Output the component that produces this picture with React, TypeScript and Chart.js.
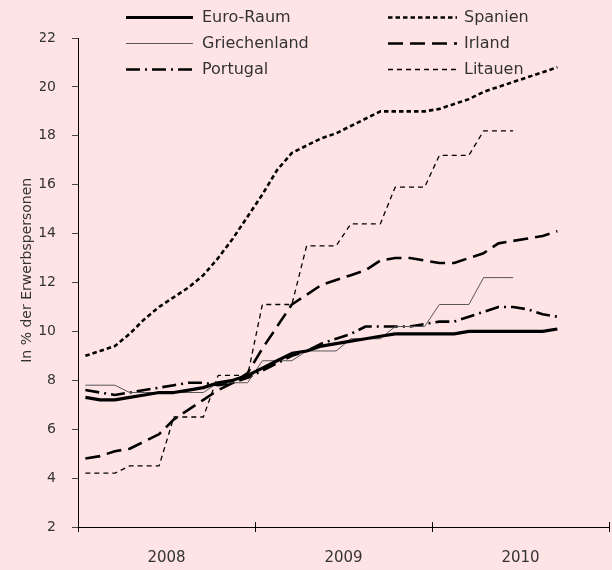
import React, { useEffect, useRef } from "react";
import { Chart, registerables } from "chart.js";

Chart.register(...registerables);

// ---- data (monthly, Jan 2008 = index 0) ----
const years = ["2008", "2009", "2010"];
const monthsPerYear = 12;
const yTickValues = [2, 4, 6, 8, 10, 12, 14, 16, 18, 20, 22];
const yTitle = "In % der Erwerbspersonen";

const euroRaum = [7.3, 7.2, 7.2, 7.3, 7.4, 7.5, 7.5, 7.6, 7.7, 7.9, 8.0, 8.2, 8.5, 8.8, 9.1, 9.2, 9.4, 9.5, 9.6, 9.7, 9.8, 9.9, 9.9, 9.9, 9.9, 9.9, 10.0, 10.0, 10.0, 10.0, 10.0, 10.0, 10.1];
const spanien = [9.0, 9.2, 9.4, 9.9, 10.5, 11.0, 11.4, 11.8, 12.3, 13.0, 13.8, 14.7, 15.6, 16.6, 17.3, 17.6, 17.9, 18.1, 18.4, 18.7, 19.0, 19.0, 19.0, 19.0, 19.1, 19.3, 19.5, 19.8, 20.0, 20.2, 20.4, 20.6, 20.8];
const griechenland = [7.8, 7.8, 7.8, 7.5, 7.5, 7.5, 7.5, 7.5, 7.5, 7.9, 7.9, 7.9, 8.8, 8.8, 8.8, 9.2, 9.2, 9.2, 9.7, 9.7, 9.7, 10.2, 10.2, 10.2, 11.1, 11.1, 11.1, 12.2, 12.2, 12.2];
const irland = [4.8, 4.9, 5.1, 5.2, 5.5, 5.8, 6.4, 6.8, 7.2, 7.6, 7.9, 8.3, 9.3, 10.2, 11.1, 11.5, 11.9, 12.1, 12.3, 12.5, 12.9, 13.0, 13.0, 12.9, 12.8, 12.8, 13.0, 13.2, 13.6, 13.7, 13.8, 13.9, 14.1];
const portugal = [7.6, 7.5, 7.4, 7.5, 7.6, 7.7, 7.8, 7.9, 7.9, 7.8, 7.9, 8.1, 8.4, 8.7, 9.0, 9.2, 9.5, 9.7, 9.9, 10.2, 10.2, 10.2, 10.2, 10.3, 10.4, 10.4, 10.6, 10.8, 11.0, 11.0, 10.9, 10.7, 10.6];
const litauen = [4.2, 4.2, 4.2, 4.5, 4.5, 4.5, 6.5, 6.5, 6.5, 8.2, 8.2, 8.2, 11.1, 11.1, 11.1, 13.5, 13.5, 13.5, 14.4, 14.4, 14.4, 15.9, 15.9, 15.9, 17.2, 17.2, 17.2, 18.2, 18.2, 18.2];

const seriesNames = ["Euro-Raum", "Spanien", "Griechenland", "Irland", "Portugal", "Litauen"];
const seriesValues = [euroRaum, spanien, griechenland, irland, portugal, litauen];

// ---- styles ----
const BG = "#FFE4E6";
const TEXT = "#333333";
const FONT = "'DejaVu Sans', sans-serif";
const seriesStyles = [
  { borderColor: "#000000", borderWidth: 3.2, borderDash: [] as number[] },
  { borderColor: "#000000", borderWidth: 2.6, borderDash: [4.5, 3] },
  { borderColor: "#555555", borderWidth: 1, borderDash: [] as number[] },
  { borderColor: "#000000", borderWidth: 2.6, borderDash: [15, 7] },
  { borderColor: "#000000", borderWidth: 2.6, borderDash: [14, 5, 2, 5] },
  { borderColor: "#000000", borderWidth: 1.3, borderDash: [5, 4] },
];

const totalMonths = years.length * monthsPerYear;
const xMin = -0.5;
const xMax = totalMonths - 0.5;

const legendPlugin = {
  id: "twoColLegend",
  afterDraw(chart: any) {
    const ctx = chart.ctx as CanvasRenderingContext2D;
    chart.data.datasets.forEach((ds: any, i: number) => {
      const col = i % 2;
      const row = Math.floor(i / 2);
      const x0 = col === 0 ? 126 : 388;
      const x1 = col === 0 ? 193 : 457;
      const tx = col === 0 ? 202 : 464;
      const y = 17.5 + row * 26;
      ctx.save();
      ctx.strokeStyle = ds.borderColor;
      ctx.lineWidth = ds.borderWidth;
      ctx.setLineDash(ds.borderDash || []);
      ctx.beginPath();
      ctx.moveTo(x0, y);
      ctx.lineTo(x1, y);
      ctx.stroke();
      ctx.setLineDash([]);
      ctx.fillStyle = TEXT;
      ctx.font = `16px ${FONT}`;
      ctx.textBaseline = "middle";
      ctx.textAlign = "left";
      ctx.fillText(ds.label, tx, y);
      ctx.restore();
    });
  },
};

const extrasPlugin = {
  id: "extras",
  afterDraw(chart: any) {
    const ctx = chart.ctx as CanvasRenderingContext2D;
    const sx = chart.scales.x;
    const { top, bottom } = chart.chartArea;
    ctx.save();
    ctx.strokeStyle = "#000";
    ctx.lineWidth = 1;
    sx.ticks.forEach((t: any) => {
      const px = Math.round(sx.getPixelForValue(t.value)) + 0.5;
      ctx.beginPath();
      ctx.moveTo(px, bottom);
      ctx.lineTo(px, bottom - 5);
      ctx.stroke();
    });
    // y-axis title
    ctx.translate(27, top + (bottom - top) * 0.475);
    ctx.rotate(-Math.PI / 2);
    ctx.fillStyle = TEXT;
    ctx.font = `14px ${FONT}`;
    ctx.textAlign = "center";
    ctx.textBaseline = "middle";
    ctx.fillText(yTitle, 0, 0);
    ctx.restore();
  },
};

export default function App() {
  const ref = useRef<HTMLCanvasElement | null>(null);

  useEffect(() => {
    document.documentElement.style.background = BG;
    document.body.style.margin = "0";
    document.body.style.background = BG;
    if (!ref.current) return;
    const chart = new Chart(ref.current, {
      type: "line",
      data: {
        datasets: seriesNames.map((name, i) => ({
          label: name,
          data: seriesValues[i].map((v, k) => ({ x: k, y: v })),
          borderColor: seriesStyles[i].borderColor,
          borderWidth: seriesStyles[i].borderWidth,
          borderDash: seriesStyles[i].borderDash,
          borderCapStyle: "butt" as const,
          borderJoinStyle: "round" as const,
          pointRadius: 0,
          tension: 0,
          fill: false,
        })),
      },
      options: {
        animation: false,
        responsive: false,
        events: [],
        layout: { padding: { top: 38, right: 3, left: 40, bottom: 0 } },
        plugins: { legend: { display: false }, tooltip: { enabled: false } },
        scales: {
          x: {
            type: "linear",
            position: "bottom",
            weight: 0,
            min: xMin,
            max: xMax,
            afterBuildTicks: (s: any) => {
              s.ticks = years.concat([""]).map((_, k) => ({ value: xMin + k * monthsPerYear }));
            },
            afterFit: (s: any) => {
              s.height = 5;
            },
            ticks: { display: false },
            grid: { drawOnChartArea: false, tickLength: 5, color: "#000" },
            border: { color: "#000", width: 1 },
          },
          xYears: {
            type: "linear",
            position: "bottom",
            weight: 1,
            min: xMin,
            max: xMax,
            afterBuildTicks: (s: any) => {
              s.ticks = years.map((_, k) => ({ value: k * monthsPerYear + (monthsPerYear - 1) / 2 }));
            },
            afterFit: (s: any) => {
              s.height = 38;
            },
            ticks: {
              autoSkip: false,
              maxRotation: 0,
              padding: 17,
              color: TEXT,
              font: { family: FONT, size: 15 },
              callback: (v: any) => years[Math.round((Number(v) - (monthsPerYear - 1) / 2) / monthsPerYear)],
            },
            grid: { display: false, drawTicks: false },
            border: { display: false },
          },
          y: {
            type: "linear",
            min: yTickValues[0],
            max: yTickValues[yTickValues.length - 1],
            afterBuildTicks: (s: any) => {
              s.ticks = yTickValues.map((v) => ({ value: v }));
            },
            afterFit: (s: any) => {
              s.width = 38;
            },
            ticks: { padding: 16, color: TEXT, font: { family: FONT, size: 14 } },
            grid: { drawOnChartArea: false, tickLength: 6, color: "#444" },
            border: { color: "#000", width: 1 },
          },
        },
      },
      plugins: [legendPlugin, extrasPlugin],
    });
    return () => chart.destroy();
  }, []);

  return <canvas ref={ref} width={612} height={570} style={{ display: "block", background: BG }} />;
}
